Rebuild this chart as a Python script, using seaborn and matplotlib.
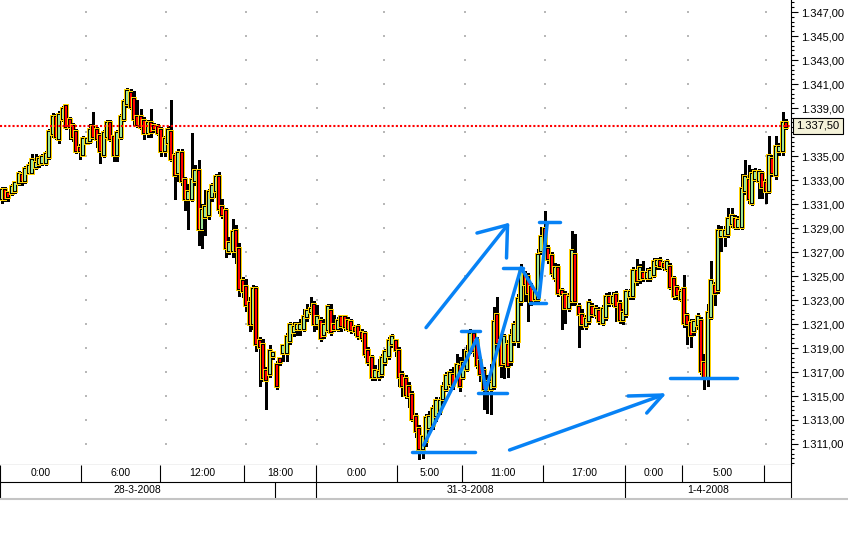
import matplotlib
matplotlib.use("Agg")
import numpy as np
import pandas as pd
import matplotlib.pyplot as plt
import seaborn as sns
from matplotlib.ticker import FixedLocator, FuncFormatter
from matplotlib.lines import Line2D
from matplotlib.collections import LineCollection

# 15 minute EUR/USD candles, 28-3-2008 .. 1-4-2008
opens = [
    1.3315, 1.3321, 1.3318, 1.3320, 1.3322, 1.3328, 1.3333, 1.3330, 1.3337, 1.3337,
    1.3342, 1.3344, 1.3345, 1.3345, 1.3350, 1.3369, 1.3382, 1.3365, 1.3382, 1.3391,
    1.3379, 1.3374, 1.3369, 1.3356, 1.3352, 1.3362, 1.3363, 1.3373, 1.3371, 1.3366,
    1.3352, 1.3367, 1.3377, 1.3365, 1.3352, 1.3367, 1.3382, 1.3394, 1.3402, 1.3397,
    1.3382, 1.3382, 1.3378, 1.3370, 1.3377, 1.3374, 1.3373, 1.3371, 1.3355, 1.3362,
    1.3369, 1.3349, 1.3337, 1.3352, 1.3329, 1.3315, 1.3315, 1.3330, 1.3337, 1.3290,
    1.3300, 1.3302, 1.3317, 1.3322, 1.3332, 1.3307, 1.3303, 1.3272, 1.3272, 1.3287,
    1.3272, 1.3245, 1.3240, 1.3227, 1.3211, 1.3238, 1.3195, 1.3192, 1.3170, 1.3169,
    1.3184, 1.3175, 1.3180, 1.3187, 1.3187, 1.3197, 1.3204, 1.3207, 1.3207, 1.3207,
    1.3217, 1.3221, 1.3225, 1.3211, 1.3212, 1.3202, 1.3206, 1.3220, 1.3208, 1.3207,
    1.3215, 1.3215, 1.3212, 1.3211, 1.3206, 1.3207, 1.3202, 1.3201, 1.3187, 1.3181,
    1.3167, 1.3167, 1.3169, 1.3179, 1.3184, 1.3194, 1.3195, 1.3187, 1.3167, 1.3163,
    1.3157, 1.3150, 1.3132, 1.3122, 1.3107, 1.3113, 1.3124, 1.3127, 1.3134, 1.3138,
    1.3148, 1.3157, 1.3161, 1.3167, 1.3165, 1.3174, 1.3167, 1.3173, 1.3188, 1.3201,
    1.3195, 1.3178, 1.3170, 1.3157, 1.3157, 1.3159, 1.3217, 1.3195, 1.3178, 1.3192,
    1.3180, 1.3197, 1.3197, 1.3230, 1.3250, 1.3248, 1.3240, 1.3232, 1.3232, 1.3272,
    1.3288, 1.3272, 1.3266, 1.3249, 1.3256, 1.3237, 1.3233, 1.3224, 1.3230, 1.3267,
    1.3223, 1.3217, 1.3209, 1.3213, 1.3223, 1.3218, 1.3220, 1.3212, 1.3217, 1.3232,
    1.3228, 1.3233, 1.3226, 1.3214, 1.3219, 1.3234, 1.3234, 1.3253, 1.3248, 1.3252,
    1.3249, 1.3249, 1.3252, 1.3260, 1.3262, 1.3259, 1.3257, 1.3257, 1.3247, 1.3239,
    1.3232, 1.3238, 1.3216, 1.3210, 1.3205, 1.3210, 1.3212, 1.3177, 1.3167, 1.3217,
    1.3241, 1.3239, 1.3284, 1.3284, 1.3286, 1.3294, 1.3297, 1.3292, 1.3292, 1.3322,
    1.3329, 1.3312, 1.3332, 1.3330, 1.3334, 1.3327, 1.3322, 1.3347, 1.3335, 1.3355,
    1.3355, 1.3377,
]
closes = [
    1.3321, 1.3315, 1.3317, 1.3323, 1.3327, 1.3334, 1.3330, 1.3338, 1.3341, 1.3346,
    1.3343, 1.3347, 1.3348, 1.3351, 1.3369, 1.3382, 1.3367, 1.3383, 1.3388, 1.3375,
    1.3375, 1.3367, 1.3355, 1.3355, 1.3363, 1.3363, 1.3371, 1.3367, 1.3365, 1.3355,
    1.3368, 1.3377, 1.3365, 1.3352, 1.3368, 1.3382, 1.3394, 1.3403, 1.3392, 1.3382,
    1.3377, 1.3375, 1.3370, 1.3377, 1.3371, 1.3373, 1.3370, 1.3355, 1.3363, 1.3371,
    1.3348, 1.3335, 1.3352, 1.3330, 1.3315, 1.3319, 1.3329, 1.3337, 1.3290, 1.3304,
    1.3307, 1.3319, 1.3324, 1.3332, 1.3307, 1.3302, 1.3274, 1.3277, 1.3286, 1.3272,
    1.3240, 1.3238, 1.3227, 1.3211, 1.3238, 1.3194, 1.3192, 1.3166, 1.3164, 1.3187,
    1.3185, 1.3159, 1.3179, 1.3191, 1.3198, 1.3208, 1.3207, 1.3208, 1.3208, 1.3215,
    1.3220, 1.3222, 1.3211, 1.3215, 1.3199, 1.3208, 1.3223, 1.3204, 1.3207, 1.3212,
    1.3209, 1.3208, 1.3207, 1.3206, 1.3205, 1.3201, 1.3199, 1.3186, 1.3179, 1.3167,
    1.3170, 1.3169, 1.3181, 1.3186, 1.3195, 1.3198, 1.3189, 1.3167, 1.3159, 1.3152,
    1.3151, 1.3132, 1.3122, 1.3107, 1.3115, 1.3131, 1.3132, 1.3138, 1.3145, 1.3145,
    1.3157, 1.3166, 1.3168, 1.3160, 1.3175, 1.3159, 1.3177, 1.3186, 1.3201, 1.3188,
    1.3177, 1.3169, 1.3157, 1.3161, 1.3160, 1.3211, 1.3195, 1.3177, 1.3198, 1.3176,
    1.3199, 1.3208, 1.3230, 1.3255, 1.3244, 1.3237, 1.3230, 1.3236, 1.3267, 1.3282,
    1.3269, 1.3265, 1.3253, 1.3256, 1.3237, 1.3236, 1.3224, 1.3232, 1.3270, 1.3230,
    1.3219, 1.3211, 1.3213, 1.3227, 1.3219, 1.3222, 1.3213, 1.3222, 1.3232, 1.3228,
    1.3232, 1.3226, 1.3214, 1.3218, 1.3236, 1.3236, 1.3253, 1.3247, 1.3256, 1.3249,
    1.3252, 1.3253, 1.3261, 1.3262, 1.3259, 1.3258, 1.3261, 1.3242, 1.3234, 1.3235,
    1.3236, 1.3212, 1.3211, 1.3202, 1.3211, 1.3215, 1.3172, 1.3167, 1.3218, 1.3245,
    1.3237, 1.3287, 1.3287, 1.3287, 1.3297, 1.3299, 1.3292, 1.3296, 1.3322, 1.3332,
    1.3315, 1.3334, 1.3336, 1.3336, 1.3325, 1.3322, 1.3349, 1.3337, 1.3357, 1.3357,
    1.3377, 1.3375,
]
highs = [
    1.3323, 1.3323, 1.3320, 1.3326, 1.3328, 1.3337, 1.3336, 1.3341, 1.3344, 1.3351,
    1.3351, 1.3349, 1.3351, 1.3353, 1.3372, 1.3385, 1.3384, 1.3387, 1.3391, 1.3392,
    1.3382, 1.3377, 1.3372, 1.3359, 1.3366, 1.3365, 1.3376, 1.3386, 1.3373, 1.3368,
    1.3371, 1.3379, 1.3379, 1.3367, 1.3371, 1.3384, 1.3397, 1.3406, 1.3405, 1.3403,
    1.3396, 1.3388, 1.3382, 1.3379, 1.3388, 1.3377, 1.3376, 1.3373, 1.3366, 1.3374,
    1.3396, 1.3352, 1.3355, 1.3355, 1.3332, 1.3326, 1.3368, 1.3342, 1.3346, 1.3309,
    1.3321, 1.3322, 1.3327, 1.3334, 1.3336, 1.3313, 1.3306, 1.3282, 1.3297, 1.3292,
    1.3277, 1.3248, 1.3247, 1.3232, 1.3242, 1.3241, 1.3198, 1.3197, 1.3173, 1.3192,
    1.3187, 1.3178, 1.3182, 1.3192, 1.3202, 1.3211, 1.3211, 1.3211, 1.3213, 1.3222,
    1.3226, 1.3232, 1.3228, 1.3225, 1.3215, 1.3213, 1.3226, 1.3226, 1.3217, 1.3215,
    1.3217, 1.3217, 1.3215, 1.3213, 1.3208, 1.3209, 1.3205, 1.3203, 1.3190, 1.3183,
    1.3175, 1.3180, 1.3184, 1.3188, 1.3198, 1.3201, 1.3197, 1.3190, 1.3170, 1.3167,
    1.3161, 1.3153, 1.3135, 1.3125, 1.3117, 1.3134, 1.3137, 1.3142, 1.3148, 1.3148,
    1.3161, 1.3169, 1.3172, 1.3173, 1.3184, 1.3182, 1.3188, 1.3192, 1.3205, 1.3204,
    1.3198, 1.3182, 1.3173, 1.3167, 1.3176, 1.3223, 1.3232, 1.3198, 1.3201, 1.3196,
    1.3205, 1.3212, 1.3234, 1.3259, 1.3253, 1.3252, 1.3243, 1.3238, 1.3272, 1.3290,
    1.3303, 1.3275, 1.3269, 1.3260, 1.3259, 1.3239, 1.3237, 1.3235, 1.3287, 1.3284,
    1.3227, 1.3222, 1.3217, 1.3230, 1.3227, 1.3225, 1.3223, 1.3225, 1.3235, 1.3236,
    1.3236, 1.3237, 1.3229, 1.3222, 1.3238, 1.3238, 1.3257, 1.3263, 1.3259, 1.3262,
    1.3256, 1.3257, 1.3264, 1.3264, 1.3265, 1.3262, 1.3263, 1.3260, 1.3249, 1.3242,
    1.3238, 1.3250, 1.3218, 1.3213, 1.3213, 1.3218, 1.3215, 1.3184, 1.3226, 1.3262,
    1.3244, 1.3292, 1.3291, 1.3291, 1.3306, 1.3306, 1.3300, 1.3299, 1.3334, 1.3346,
    1.3342, 1.3338, 1.3339, 1.3338, 1.3337, 1.3330, 1.3366, 1.3350, 1.3366, 1.3360,
    1.3386, 1.3380,
]
lows = [
    1.3312, 1.3313, 1.3313, 1.3318, 1.3320, 1.3327, 1.3327, 1.3328, 1.3336, 1.3336,
    1.3340, 1.3342, 1.3343, 1.3343, 1.3348, 1.3367, 1.3365, 1.3362, 1.3380, 1.3373,
    1.3365, 1.3363, 1.3353, 1.3348, 1.3351, 1.3361, 1.3362, 1.3365, 1.3358, 1.3345,
    1.3350, 1.3366, 1.3363, 1.3347, 1.3347, 1.3365, 1.3380, 1.3392, 1.3390, 1.3377,
    1.3375, 1.3373, 1.3365, 1.3367, 1.3367, 1.3371, 1.3368, 1.3351, 1.3351, 1.3361,
    1.3347, 1.3315, 1.3330, 1.3327, 1.3306, 1.3290, 1.3313, 1.3327, 1.3277, 1.3274,
    1.3285, 1.3298, 1.3313, 1.3317, 1.3303, 1.3299, 1.3267, 1.3269, 1.3267, 1.3262,
    1.3234, 1.3233, 1.3222, 1.3205, 1.3207, 1.3188, 1.3159, 1.3163, 1.3140, 1.3167,
    1.3182, 1.3157, 1.3177, 1.3180, 1.3180, 1.3194, 1.3201, 1.3202, 1.3202, 1.3205,
    1.3213, 1.3219, 1.3205, 1.3207, 1.3197, 1.3199, 1.3204, 1.3202, 1.3205, 1.3205,
    1.3205, 1.3206, 1.3205, 1.3203, 1.3202, 1.3198, 1.3197, 1.3183, 1.3177, 1.3164,
    1.3164, 1.3164, 1.3167, 1.3177, 1.3182, 1.3192, 1.3184, 1.3159, 1.3151, 1.3149,
    1.3142, 1.3130, 1.3117, 1.3098, 1.3099, 1.3109, 1.3122, 1.3123, 1.3130, 1.3136,
    1.3145, 1.3155, 1.3158, 1.3157, 1.3163, 1.3155, 1.3165, 1.3172, 1.3187, 1.3184,
    1.3174, 1.3163, 1.3140, 1.3137, 1.3136, 1.3157, 1.3192, 1.3167, 1.3166, 1.3167,
    1.3177, 1.3193, 1.3192, 1.3227, 1.3230, 1.3213, 1.3227, 1.3228, 1.3230, 1.3269,
    1.3266, 1.3262, 1.3251, 1.3247, 1.3234, 1.3207, 1.3212, 1.3222, 1.3227, 1.3227,
    1.3192, 1.3207, 1.3207, 1.3211, 1.3217, 1.3216, 1.3211, 1.3210, 1.3214, 1.3226,
    1.3226, 1.3213, 1.3212, 1.3211, 1.3217, 1.3232, 1.3232, 1.3243, 1.3245, 1.3247,
    1.3247, 1.3247, 1.3250, 1.3257, 1.3257, 1.3256, 1.3255, 1.3240, 1.3232, 1.3232,
    1.3230, 1.3208, 1.3194, 1.3192, 1.3202, 1.3207, 1.3169, 1.3157, 1.3159, 1.3215,
    1.3227, 1.3237, 1.3272, 1.3276, 1.3283, 1.3292, 1.3290, 1.3290, 1.3290, 1.3319,
    1.3312, 1.3310, 1.3330, 1.3316, 1.3316, 1.3312, 1.3320, 1.3334, 1.3332, 1.3352,
    1.3352, 1.3373,
]
last_price = 1.3375

# time scale underneath (bar positions of the cell borders)
time_edges = [23.5, 46.5, 71.5, 92.5, 116.5, 135.5, 159.5, 183.5, 200.5, 224.5]
time_labels = ["0:00", "6:00", "12:00", "18:00", "0:00", "5:00", "11:00",
               "17:00", "0:00", "5:00", ""]
date_edges = [80.5, 92.5, 183.5]
date_labels = ["28-3-2008", "", "31-3-2008", "1-4-2008"]
grid_bars = [24.8, 48.4, 72, 93, 112.7, 136.5, 160, 184, 202.3, 225]

# hand drawn blue marks
zigzag_bar = [124.3, 140.0, 142.6, 153.0, 158.3, 160.7]
zigzag_price = [1.3109, 1.3198, 1.3155, 1.3257, 1.3232, 1.3294]
cap_start = [120.8, 135.3, 140.3, 147.7, 155.7, 158.3, 197.0]
cap_end = [139.3, 141.0, 148.7, 153.7, 160.3, 164.6, 216.7]
cap_price = [1.3103, 1.3204, 1.31525, 1.3257, 1.32275, 1.3295, 1.3165]
arrow1_bar = [125.0, 149.0]
arrow1_price = [1.3207, 1.32925]
arrow1_head_bar = [140.0, 149.0, 148.7]
arrow1_head_price = [1.32858, 1.32925, 1.3265]
arrow2_bar = [149.6, 194.7]
arrow2_price = [1.3105, 1.31508]
arrow2_head_bar = [184.5, 194.7, 190.0]
arrow2_head_price = [1.3150, 1.31508, 1.31358]

sns.set_theme(style="white")
plt.rcParams["font.family"] = ["Liberation Sans", "DejaVu Sans"]

df = pd.DataFrame({"open": opens, "high": highs, "low": lows, "close": closes})
df["bar"] = np.arange(len(df))
df["top"] = df[["open", "close"]].max(axis=1)
df["bot"] = df[["open", "close"]].min(axis=1)
df["fill"] = np.where(df["close"] >= df["open"], "#9be596", "#ff0000")

W, H = 848, 558
fig = plt.figure(figsize=(W / 100, H / 100), dpi=100)
fig.patch.set_facecolor("white")
ax = fig.add_axes([0, 1 - 465 / H, 791 / W, 465 / H])
xmin, xmax = -0.5, 232.5
ax.set_xlim(xmin, xmax)
ax.set_ylim(1.30925, 1.3480)
ax.set_facecolor("white")

# grey grid dots
yt = np.arange(1.311, 1.3475, 0.002)
gx, gy = np.meshgrid(grid_bars, yt)
sns.scatterplot(x=gx.ravel(), y=gy.ravel(), ax=ax, s=3, color="#b8b8b8",
                marker="s", linewidth=0, zorder=1, legend=False)

# candles, each one drawn whole (wick, yellow frame, black frame, fill)
# so the next candle sits on top of the previous one
segs, cols, lws = [], [], []
for r in df.itertuples():
    segs.append([(r.bar, r.low), (r.bar, r.high)])
    cols.append("black")
    lws.append(0.75)
    for col, lw in [("#ffd200", 4.0), ("black", 2.6), (r.fill, 1.3)]:
        segs.append([(r.bar, r.bot), (r.bar, r.top)])
        cols.append(col)
        lws.append(lw)
candles = LineCollection(segs, colors=cols, linewidths=lws, zorder=3,
                         antialiased=False, capstyle="projecting")
ax.add_collection(candles)

# last price line
ax.axhline(last_price, color="red", lw=1.5, ls=(0, (1, 1)), zorder=6)

# blue annotations
blue = "#0782f5"
kw = dict(color=blue, lw=2.5, solid_capstyle="round", zorder=7)
ax.plot(zigzag_bar, zigzag_price, **kw)
for a, b, p in zip(cap_start, cap_end, cap_price):
    ax.plot([a, b], [p, p], **kw)
ax.plot(arrow1_bar, arrow1_price, **kw)
ax.plot(arrow1_head_bar, arrow1_head_price, **kw)
ax.plot(arrow2_bar, arrow2_price, **kw)
ax.plot(arrow2_head_bar, arrow2_head_price, **kw)

# price scale on the right
def price_fmt(v, pos=None):
    s = f"{v * 1000:,.2f}"
    return s.replace(",", "X").replace(".", ",").replace("X", ".")

def tick_fmt(v, pos=None):
    # the last-price box sits over this level
    if abs(v - last_price) < 0.0008:
        return ""
    return price_fmt(v)

ax.yaxis.tick_right()
ax.yaxis.set_major_locator(FixedLocator(yt))
ax.yaxis.set_major_formatter(FuncFormatter(tick_fmt))
ax.yaxis.set_minor_locator(FixedLocator(np.arange(1.3094, 1.348, 0.0004)))
ax.tick_params(axis="y", which="major", right=True, left=False, length=5,
               width=0.8, pad=2, labelsize=8, colors="black", direction="out")
ax.tick_params(axis="y", which="minor", right=True, left=False, length=2.5,
               width=0.8, colors="black", direction="out")
ax.set_xticks([])
for s in ["top", "left"]:
    ax.spines[s].set_visible(False)
for s in ["right", "bottom"]:
    ax.spines[s].set_color("black")
    ax.spines[s].set_linewidth(0.8)

ax.text(1.0065, last_price, price_fmt(last_price), transform=ax.get_yaxis_transform(),
        ha="left", va="center", fontsize=8, color="black", zorder=10, clip_on=False,
        bbox=dict(boxstyle="square,pad=0.3", fc="#f4f2d9", ec="black", lw=0.8))

# time / date strip
axt = fig.add_axes([0, 1 - 498 / H, 791 / W, 33 / H])
axt.set_xlim(xmin, xmax)
axt.set_ylim(0, 33)
axt.set_xticks([])
axt.set_yticks([])
axt.set_facecolor("white")
for s in ["top", "left", "bottom"]:
    axt.spines[s].set_visible(False)
axt.spines["right"].set_color("black")
axt.spines["right"].set_linewidth(0.8)
lkw = dict(colors="black", lw=0.8)
axt.hlines(16, xmin, xmax, **lkw)
axt.vlines(time_edges, 16, 33, **lkw)
axt.vlines(date_edges, 0, 16, **lkw)
axt.vlines([xmin + 0.1], 0, 33, **lkw)

narrow = ["Liberation Sans Narrow", "Liberation Sans", "DejaVu Sans"]
t_bounds = [xmin] + time_edges + [xmax]
for lab, a, b in zip(time_labels, t_bounds[:-1], t_bounds[1:]):
    axt.text((a + b) / 2, 24.5, lab, ha="center", va="center", fontsize=7.5,
             family=narrow, color="black")
d_bounds = [xmin] + date_edges + [xmax]
for lab, a, b in zip(date_labels, d_bounds[:-1], d_bounds[1:]):
    axt.text((a + b) / 2, 8, lab, ha="center", va="center", fontsize=7.5,
             family=narrow, color="black")

fig.add_artist(Line2D([0, 1], [1 - 499 / H] * 2, transform=fig.transFigure,
                      color="#c4c4c4", lw=1.5))

fig.savefig("out.png", dpi=100)
